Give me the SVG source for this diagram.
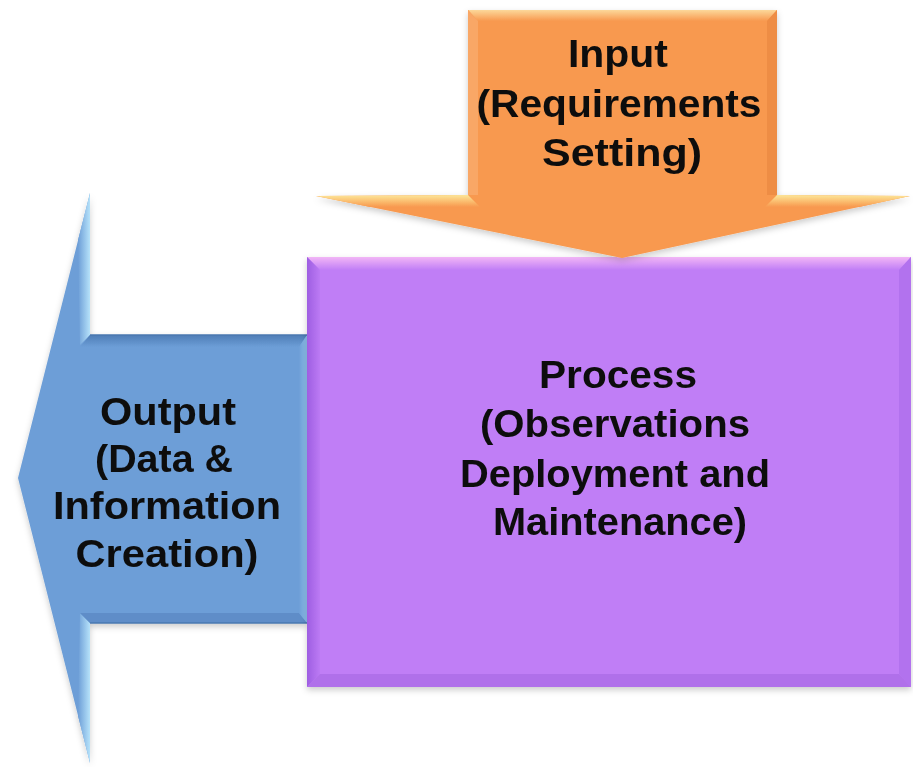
<svg xmlns="http://www.w3.org/2000/svg" width="913" height="767" viewBox="0 0 913 767">
  <style>
    .label { font-family: "Liberation Sans", Arial, sans-serif; font-weight: bold; font-size: 39px; fill: #101010; text-anchor: middle; }
  </style>
  <defs>
    <filter id="soft" x="-10%" y="-10%" width="120%" height="120%">
      <feDropShadow dx="0" dy="3" stdDeviation="3" flood-color="#000" flood-opacity="0.2"/>
    </filter>
    <!-- orange bevel ramps -->
    <linearGradient id="orTop" x1="0" y1="0" x2="0" y2="1">
      <stop offset="0" stop-color="#FCD89A"/>
      <stop offset="1" stop-color="#F8994F"/>
    </linearGradient>
    <linearGradient id="orWing" x1="0" y1="0" x2="0" y2="1">
      <stop offset="0" stop-color="#FCE79A"/>
      <stop offset="0.5" stop-color="#FBC071"/>
      <stop offset="1" stop-color="#F8994F"/>
    </linearGradient>
    <!-- purple bevel ramps -->
    <linearGradient id="puTop" x1="0" y1="0" x2="0" y2="1">
      <stop offset="0" stop-color="#F2B6F6"/>
      <stop offset="1" stop-color="#C07EF6"/>
    </linearGradient>
    <linearGradient id="puLeft" x1="0" y1="0" x2="1" y2="0">
      <stop offset="0" stop-color="#9E5EE2"/>
      <stop offset="1" stop-color="#BC7AF4"/>
    </linearGradient>
    <!-- blue bevel ramps -->
    <linearGradient id="blHead" x1="1" y1="0" x2="0" y2="0">
      <stop offset="0" stop-color="#B6E2FA"/>
      <stop offset="1" stop-color="#6D9ED7"/>
    </linearGradient>
    <linearGradient id="blTop" x1="0" y1="0" x2="0" y2="1">
      <stop offset="0" stop-color="#4E7DB6"/>
      <stop offset="1" stop-color="#6D9ED7"/>
    </linearGradient>
    <linearGradient id="blEnd" x1="0" y1="0" x2="1" y2="0">
      <stop offset="0" stop-color="#6D9ED7"/>
      <stop offset="1" stop-color="#8DBFEA"/>
    </linearGradient>
  </defs>

  <rect width="913" height="767" fill="#FFFFFF"/>

  <!-- Output: left-pointing arrow -->
  <g id="node-output" filter="url(#soft)">
    <polygon points="18,478 90,193 90,335 307,335 307,623 90,623 90,763" fill="#6D9ED7"/>
    <!-- bevel facets -->
    <polygon points="90,193 90,335 80,345 78,240" fill="url(#blHead)"/>
    <polygon points="90,763 90,623 80,613 78,716" fill="url(#blHead)"/>
    <polygon points="90,335 307,335 299,347 80,347" fill="url(#blTop)"/>
    <polygon points="80,613 299,613 307,623 90,623" fill="#5E8DC8"/>
    <polygon points="299,347 307,335 307,623 299,613" fill="url(#blEnd)"/>
    <line x1="90" y1="335" x2="307" y2="335" stroke="#4A78B0" stroke-width="1.5"/>
    <line x1="90" y1="623" x2="307" y2="623" stroke="#4A78B0" stroke-width="1.5"/>
    <text class="label" x="168" y="425" textLength="136" lengthAdjust="spacingAndGlyphs">Output</text>
    <text class="label" x="164" y="472" textLength="138" lengthAdjust="spacingAndGlyphs">(Data &amp;</text>
    <text class="label" x="167" y="519" textLength="228" lengthAdjust="spacingAndGlyphs">Information</text>
    <text class="label" x="167" y="567" textLength="183" lengthAdjust="spacingAndGlyphs">Creation)</text>
  </g>

  <!-- Process: box -->
  <g id="node-process" filter="url(#soft)">
    <rect x="307" y="257" width="604" height="430" fill="#C07EF6"/>
    <!-- bevel facets -->
    <polygon points="307,257 911,257 899,270 320,270" fill="url(#puTop)"/>
    <polygon points="307,257 320,270 320,674 307,687" fill="url(#puLeft)"/>
    <polygon points="911,257 911,687 899,674 899,270" fill="#B272EE"/>
    <polygon points="307,687 911,687 899,674 320,674" fill="#B06FEA"/>
    <text class="label" x="618" y="388" textLength="158" lengthAdjust="spacingAndGlyphs">Process</text>
    <text class="label" x="615" y="437" textLength="270" lengthAdjust="spacingAndGlyphs">(Observations</text>
    <text class="label" x="615" y="487" textLength="310" lengthAdjust="spacingAndGlyphs">Deployment and</text>
    <text class="label" x="620" y="535" textLength="254" lengthAdjust="spacingAndGlyphs">Maintenance)</text>
  </g>

  <!-- Input: downward arrow -->
  <g id="node-input" filter="url(#soft)">
    <polygon points="468,10 777,10 777,195 910,196 622,258 316,196 468,195" fill="#F8994F"/>
    <!-- bevel facets -->
    <polygon points="468,10 777,10 767,21 478,21" fill="url(#orTop)"/>
    <polygon points="468,10 478,21 478,195 468,195" fill="#F9A766"/>
    <polygon points="777,10 777,195 767,195 767,21" fill="#EE8D45"/>
    <polygon points="316,196 468,195 480,207 370,207" fill="url(#orWing)"/>
    <polygon points="910,196 777,195 765,207 859,207" fill="url(#orWing)"/>
    <text class="label" x="618" y="67" textLength="100" lengthAdjust="spacingAndGlyphs">Input</text>
    <text class="label" x="619" y="117" textLength="285" lengthAdjust="spacingAndGlyphs">(Requirements</text>
    <text class="label" x="622" y="166" textLength="160" lengthAdjust="spacingAndGlyphs">Setting)</text>
  </g>
</svg>
